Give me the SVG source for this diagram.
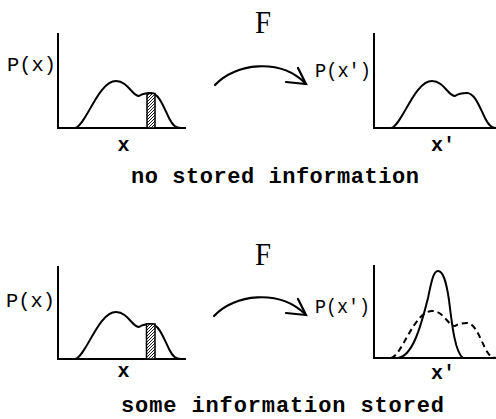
<svg xmlns="http://www.w3.org/2000/svg" width="496" height="419" viewBox="0 0 496 419">
<style>
.ax{fill:none;stroke:#000;stroke-width:2;stroke-linecap:square}
.cv{fill:none;stroke:#000;stroke-width:2;stroke-linejoin:round}
.dash{fill:none;stroke:#000;stroke-width:2;stroke-dasharray:6 4}
.lbl{font-family:"Liberation Mono","DejaVu Sans Mono",monospace;font-size:20px;fill:#000}
.bx{font-family:"Liberation Mono","DejaVu Sans Mono",monospace;font-size:20px;font-weight:bold;fill:#000}
.cap{font-family:"Liberation Mono","DejaVu Sans Mono",monospace;font-size:22px;font-weight:bold;fill:#000}
.F{font-family:"Liberation Serif","DejaVu Serif",serif;font-size:32px;fill:#000}
.bar{fill:url(#hatch);stroke:#000;stroke-width:1.5}
.arr{fill:none;stroke:#000;stroke-width:2.2;stroke-linecap:round}
</style>
<defs>
<pattern id="hatch" patternUnits="userSpaceOnUse" width="3" height="3">
<rect width="3" height="3" fill="#fff"/>
<path d="M-1,1 L1,-1 M0,3 L3,0 M2,4 L4,2" stroke="#000" stroke-width="0.9"/>
</pattern>
<path id="dist" d="M17,0 C28,-2 40,-47 58,-47 C70,-47 74,-32 81,-32 C84,-34 88,-35 93,-35 C101,-35 106,-20 111,-10 C115,-2 118,0 123,0"/>
</defs>

<g id="top-left-plot">
<path class="ax" d="M58,34 L58,128 L185,128"/>
<use href="#dist" class="cv" transform="translate(58,128)"/>
<rect class="bar" x="147" y="93.5" width="8" height="34.5"/>
<text class="lbl" x="7" y="71" textLength="49" lengthAdjust="spacingAndGlyphs">P(x)</text>
<text class="bx" x="123.5" y="151" text-anchor="middle">x</text>
</g>

<g id="top-right-plot">
<path class="ax" d="M374,34 L374,128 L496,128"/>
<use href="#dist" class="cv" transform="translate(374,128)"/>
<text class="lbl" x="315" y="77" textLength="56" lengthAdjust="spacingAndGlyphs">P(x′)</text>
<text class="bx" x="443" y="151" text-anchor="middle">x′</text>
</g>

<g id="bottom-left-plot">
<path class="ax" d="M58,267 L58,359 L185,359"/>
<use href="#dist" class="cv" transform="translate(58,359)"/>
<rect class="bar" x="146.5" y="324" width="8.5" height="35"/>
<text class="lbl" x="6" y="307" textLength="49" lengthAdjust="spacingAndGlyphs">P(x)</text>
<text class="bx" x="123.5" y="377" text-anchor="middle">x</text>
</g>

<g id="bottom-right-plot">
<path class="ax" d="M374,266 L374,358 L496,358"/>
<use href="#dist" class="dash" transform="translate(374,358)"/>
<path class="cv" d="M398,358 C412,356 420,330 428,298 C432,278 434,271 438,271 C443,271 446,280 449,300 C452,325 455,352 463,358"/>
<text class="lbl" x="315" y="313" textLength="55" lengthAdjust="spacingAndGlyphs">P(x′)</text>
<text class="bx" x="443" y="379" text-anchor="middle">x′</text>
</g>

<g id="connectors">
<path class="arr" d="M215,85 C235,63 280,58 305,83"/>
<polyline class="arr" points="298,68 306,84 286,82"/>
<path class="arr" d="M214,316 C234,294 279,289 305,314"/>
<polyline class="arr" points="298,299 306,315 286,313"/>
</g>

<g id="labels">
<text class="F" x="255" y="33" textLength="16" lengthAdjust="spacingAndGlyphs">F</text>
<text class="F" x="255" y="265" textLength="16" lengthAdjust="spacingAndGlyphs">F</text>
<text class="cap" x="131" y="183" textLength="288">no stored information</text>
<text class="cap" x="121" y="412" textLength="323">some information stored</text>
</g>
</svg>
